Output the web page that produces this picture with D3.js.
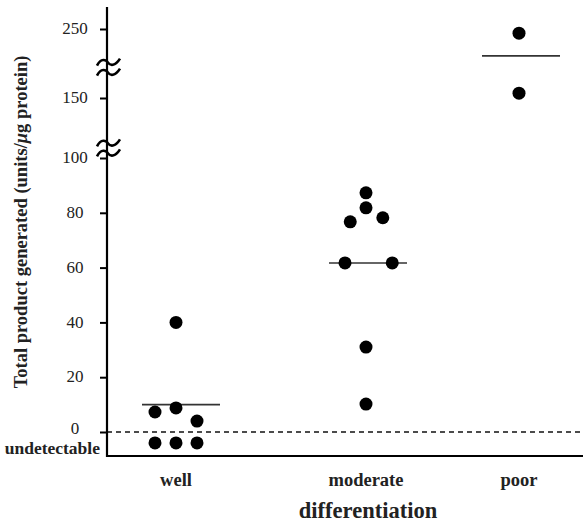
<!DOCTYPE html>
<html>
<head>
<meta charset="utf-8">
<script src="https://cdn.jsdelivr.net/npm/d3@7"></script>
<style>
  body { margin: 0; background: #fff; }
  text { font-family: "Liberation Serif", "Times New Roman", serif; }
</style>
</head>
<body>
<div id="chart"></div>
<script>
// groups on the x axis
const groups = ["well", "moderate", "poor"];

// measured values per point (null = undetectable), with a side-slot for overlapping dots
const pointGroup = ["well", "well", "well", "well", "well", "well", "well",
  "moderate", "moderate", "moderate", "moderate", "moderate", "moderate", "moderate", "moderate",
  "poor", "poor"];
const pointValue = [40, 8.8, 7.3, 4, null, null, null,
  87.3, 81.8, 78.2, 76.7, 61.7, 61.7, 31, 10.2,
  244, 157];
const pointSlot = [0, 0, -1, 1, -1, 0, 1,
  0, 0, 0.8, -0.75, -1, 1.25, 0, 0,
  0, 0];

// group summary lines
const summaryValue = [10, 61.7, 211];

// y axis ticks and breaks
const yTicks = [0, 20, 40, 60, 80, 100, 150, 250];
const yBreaks = [108, 194];
const undetectableValue = -4;

const width = 583, height = 524;

const svg = d3.select("#chart").append("svg")
  .attr("width", width)
  .attr("height", height);

const x = d3.scaleOrdinal().domain(groups).range([176, 366, 519]);
const slot = d3.scaleLinear().domain([-1, 1]).range([-21, 21]);
// broken axis: 0-100 linear, then compressed segments above
const y = d3.scaleLinear().domain([0, 100, 150, 250]).range([432, 158, 98, 29]);

const axLeft = 107, axBottom = 456, axTop = 7;

// dashed "zero" line
svg.append("line")
  .attr("x1", axLeft).attr("x2", width)
  .attr("y1", y(0)).attr("y2", y(0))
  .attr("stroke", "#111")
  .attr("stroke-width", 1.5)
  .attr("stroke-dasharray", "5,4");

// y axis
const yAxis = svg.append("g")
  .attr("transform", `translate(${axLeft},0)`)
  .call(d3.axisLeft(y).tickValues(yTicks).tickSize(7).tickFormat(d3.format("d")));
yAxis.select(".domain").remove();
yAxis.selectAll(".tick line").attr("stroke", "#000").attr("stroke-width", 2);
yAxis.selectAll(".tick text")
  .attr("x", -32)
  .attr("dy", d => d === 0 ? "0.1em" : "0.28em")
  .attr("text-anchor", "middle")
  .attr("fill", "#222")
  .style("font-size", "17px")
  .style("font-family", "'Liberation Serif', serif");

svg.append("line")
  .attr("x1", axLeft).attr("x2", axLeft)
  .attr("y1", axTop).attr("y2", axBottom + 1)
  .attr("stroke", "#000").attr("stroke-width", 2.2);

svg.append("line")
  .attr("x1", axLeft - 1).attr("x2", width)
  .attr("y1", axBottom).attr("y2", axBottom)
  .attr("stroke", "#000").attr("stroke-width", 2.2);

// break marks (two wavy strokes on the axis)
yBreaks.forEach(b => {
  const cy = y(b);
  [-5, 5].forEach(dy => {
    const yy = cy + dy;
    svg.append("path")
      .attr("d", `M${axLeft - 10},${yy + 3} C${axLeft - 6},${yy - 5} ${axLeft - 1},${yy - 3} ${axLeft + 1},${yy}` +
        ` S${axLeft + 8},${yy + 4} ${axLeft + 13},${yy - 4}`)
      .attr("fill", "none")
      .attr("stroke", "#000")
      .attr("stroke-width", 2.6);
  });
});

svg.append("text")
  .attr("x", axLeft - 7)
  .attr("y", y(undetectableValue) + 11)
  .attr("text-anchor", "end")
  .attr("font-weight", "bold")
  .attr("fill", "#222")
  .style("font-size", "17.5px")
  .text("undetectable");

// summary lines
svg.selectAll(".summary")
  .data(groups)
  .join("line")
  .attr("class", "summary")
  .attr("x1", (d, i) => x(d) - 37 + (i === 0 ? 3 : 0))
  .attr("x2", (d, i) => x(d) + 41 + (i === 0 ? 3 : 0))
  .attr("y1", (d, i) => y(summaryValue[i]))
  .attr("y2", (d, i) => y(summaryValue[i]))
  .attr("stroke", "#333")
  .attr("stroke-width", 1.6);

// points
const points = pointValue.map((v, i) => ({ g: pointGroup[i], v: v, s: pointSlot[i] }));
svg.selectAll(".dot")
  .data(points)
  .join("circle")
  .attr("class", "dot")
  .attr("cx", d => x(d.g) + slot(d.s))
  .attr("cy", d => y(d.v === null ? undetectableValue : d.v))
  .attr("r", 6.5)
  .attr("fill", "#000");

// category labels
svg.selectAll(".cat")
  .data(groups)
  .join("text")
  .attr("class", "cat")
  .attr("x", d => x(d))
  .attr("y", 486)
  .attr("text-anchor", "middle")
  .attr("font-weight", "bold")
  .attr("fill", "#222")
  .style("font-size", "18.5px")
  .text(d => d);

svg.append("text")
  .attr("x", 368)
  .attr("y", 518)
  .attr("text-anchor", "middle")
  .attr("font-weight", "bold")
  .attr("fill", "#222")
  .style("font-size", "22.5px")
  .text("differentiation");

// y axis title
const yt = svg.append("text")
  .attr("transform", "translate(27,222) rotate(-90)")
  .attr("text-anchor", "middle")
  .attr("font-weight", "bold")
  .attr("fill", "#222")
  .style("font-size", "18.5px");
yt.append("tspan").text("Total product generated (units/");
yt.append("tspan").attr("font-style", "italic").text("μ");
yt.append("tspan").text("g protein)");
</script>
</body>
</html>
